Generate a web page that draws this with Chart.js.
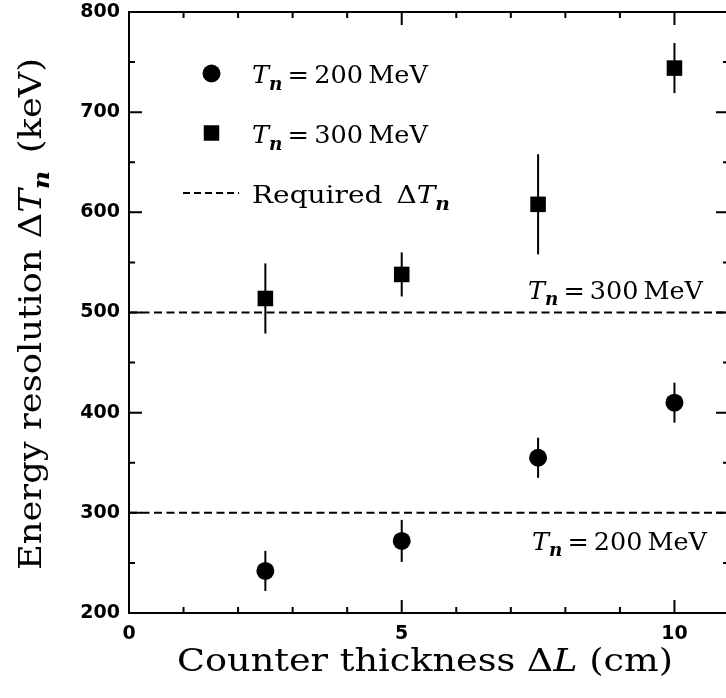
<!DOCTYPE html>
<html><head><meta charset="utf-8">
<script src="https://cdn.jsdelivr.net/npm/chart.js@4/dist/chart.umd.min.js"></script>
<style>
html,body{margin:0;padding:0;overflow:hidden;background:#fff;width:726px;height:698px}
#wrap{width:740px;height:698px;position:relative}
</style>
</head><body>
<div id="wrap"><canvas id="c" width="740" height="698"></canvas></div>
<script>
// ---- data ----
const thickness = [2.5, 5, 7.5, 10];          // counter thickness ΔL (cm)
const res200 = [242, 272, 355, 410];          // ΔT_n at T_n = 200 MeV (keV)
const err200 = [20, 21, 20, 20];
const res300 = [514, 538, 608, 744];          // ΔT_n at T_n = 300 MeV (keV)
const err300 = [35, 22, 50, 25];
const requiredRes = [300, 500];               // required ΔT_n for 200 / 300 MeV
const requiredLabels = ['200', '300'];
const xTickLabels = [0, 5, 10];
const yTickLabels = [200, 300, 400, 500, 600, 700, 800];

const X_MIN = 0, X_MAX = 11, Y_MIN = 200, Y_MAX = 800;
const SERIF = '"DejaVu Serif", serif';

function segFont(kind, size) {
  if (kind === 'i') return 'italic ' + size + 'px ' + SERIF;
  if (kind === 's') return 'italic bold ' + Math.round(size * 0.72) + 'px ' + SERIF;
  return size + 'px ' + SERIF;
}
function richWidth(ctx, segs, size) {
  let w = 0;
  for (const [t, k] of segs) { ctx.font = segFont(k, size); w += ctx.measureText(t).width; }
  return w;
}
// draw rich text starting at x0 (in already-transformed frame), baseline 0
function drawRich(ctx, segs, size, x0, targetW) {
  const w = richWidth(ctx, segs, size);
  const sx = targetW / w;
  ctx.save();
  ctx.translate(x0, 0);
  ctx.scale(sx, 1);
  ctx.fillStyle = '#000';
  ctx.textBaseline = 'alphabetic';
  ctx.textAlign = 'left';
  let x = 0;
  for (const [t, k] of segs) {
    ctx.font = segFont(k, size);
    const dy = k === 's' ? size * 0.26 : 0;
    ctx.fillText(t, x, dy);
    x += ctx.measureText(t).width;
  }
  ctx.restore();
}
function tnSegs(val) {
  return [['T', 'i'], ['n', 's'], ['\u2009=\u2009', 'r'], [val + '\u2009MeV', 'r']];
}

const decorPlugin = {
  id: 'decor',
  beforeDatasetsDraw(chart) {
    const ctx = chart.ctx, xs = chart.scales.x, ys = chart.scales.y;
    ctx.save();
    ctx.strokeStyle = '#000';
    ctx.lineWidth = 2;
    chart.data.datasets.forEach((ds) => {
      if (!ds.errors) return;
      ds.data.forEach((p, j) => {
        const px = xs.getPixelForValue(p.x);
        ctx.beginPath();
        ctx.moveTo(px, ys.getPixelForValue(p.y + ds.errors[j]));
        ctx.lineTo(px, ys.getPixelForValue(p.y - ds.errors[j]));
        ctx.stroke();
      });
    });
    ctx.restore();
  },
  afterDraw(chart) {
    const ctx = chart.ctx, xs = chart.scales.x, ys = chart.scales.y;
    const a = chart.chartArea;
    ctx.save();
    ctx.strokeStyle = '#000';
    ctx.lineWidth = 2;
    // frame
    ctx.strokeRect(a.left, a.top, a.right - a.left, a.bottom - a.top);
    // inward tick marks
    ctx.beginPath();
    ys.ticks.forEach(t => {
      const py = ys.getPixelForValue(t.value);
      const len = (t.value % 100 === 0) ? 13 : 6;
      ctx.moveTo(a.left, py); ctx.lineTo(a.left + len, py);
      ctx.moveTo(a.right, py); ctx.lineTo(a.right - len, py);
    });
    xs.ticks.forEach(t => {
      const px = xs.getPixelForValue(t.value);
      const len = (t.value % 5 === 0) ? 13 : 6;
      ctx.moveTo(px, a.bottom); ctx.lineTo(px, a.bottom - len);
      ctx.moveTo(px, a.top); ctx.lineTo(px, a.top + len);
    });
    ctx.stroke();

    // legend
    ctx.fillStyle = '#000';
    ctx.beginPath(); ctx.arc(211.5, 73.5, 9, 0, Math.PI * 2); ctx.fill();
    ctx.fillRect(211.5 - 7.75, 133 - 7.75, 15.5, 15.5);
    ctx.setLineDash([7, 4]);
    ctx.lineWidth = 2;
    ctx.beginPath(); ctx.moveTo(183, 193); ctx.lineTo(239, 193); ctx.stroke();
    ctx.setLineDash([]);

    ctx.save(); ctx.translate(0, 83); drawRich(ctx, tnSegs('200'), 25, 252, 176); ctx.restore();
    ctx.save(); ctx.translate(0, 143); drawRich(ctx, tnSegs('300'), 25, 252, 176); ctx.restore();
    ctx.save(); ctx.translate(0, 203);
    drawRich(ctx, [['Required\u2002\u0394', 'r'], ['T', 'i'], ['n', 's']], 25, 252, 198);
    ctx.restore();

    // annotations over the required lines
    const annX = [532, 528], annW = [175, 175];
    requiredRes.forEach((v, i) => {
      const py = ys.getPixelForValue(v);
      ctx.save(); ctx.translate(0, py + (i === 0 ? 37 : -14));
      drawRich(ctx, tnSegs(requiredLabels[i]), 25, annX[i], annW[i]);
      ctx.restore();
    });

    // x title
    ctx.save(); ctx.translate(0, 671);
    drawRich(ctx, [['Counter thickness \u0394', 'r'], ['L', 'i'], [' (cm)', 'r']], 31, 177, 496);
    ctx.restore();
    // y title
    ctx.save(); ctx.translate(41, 314); ctx.rotate(-Math.PI / 2);
    drawRich(ctx, [['Energy resolution \u0394', 'r'], ['T', 'i'], ['n', 's'], ['\u2002(keV)', 'r']], 32, -256, 512);
    ctx.restore();

    ctx.restore();
  }
};

const tickFont = { family: 'DejaVu Sans', size: 19, weight: 'bold', lineHeight: 1 };

new Chart(document.getElementById('c'), {
  type: 'scatter',
  data: {
    datasets: [
      {
        label: 'Tn = 200 MeV',
        data: thickness.map((x, i) => ({ x, y: res200[i] })),
        errors: err200,
        pointStyle: 'circle', pointRadius: 9, pointHoverRadius: 9,
        backgroundColor: '#000', borderColor: '#000', borderWidth: 0
      },
      {
        label: 'Tn = 300 MeV',
        data: thickness.map((x, i) => ({ x, y: res300[i] })),
        errors: err300,
        pointStyle: 'rect', pointRadius: 11, pointHoverRadius: 11,
        backgroundColor: '#000', borderColor: '#000', borderWidth: 0
      },
      ...requiredRes.map(v => ({
        type: 'line',
        label: 'Required',
        data: [{ x: X_MIN, y: v }, { x: X_MAX, y: v }],
        borderColor: '#000', borderWidth: 2, borderDash: [8, 4.5],
        pointRadius: 0, fill: false
      }))
    ]
  },
  options: {
    responsive: false,
    animation: false,
    devicePixelRatio: 1,
    layout: { padding: { left: 0, top: 12, right: 10, bottom: 0 } },
    plugins: { legend: { display: false }, tooltip: { enabled: false } },
    scales: {
      x: {
        type: 'linear', min: X_MIN, max: X_MAX,
        grid: { display: false, drawTicks: true, tickLength: 12 }, border: { display: false },
        ticks: {
          stepSize: 1, autoSkip: false, maxRotation: 0, padding: 0,
          color: '#000', font: tickFont,
          callback: v => xTickLabels.includes(v) ? String(v) : ''
        },
        afterFit: s => { s.height = 85; }
      },
      y: {
        type: 'linear', min: Y_MIN, max: Y_MAX,
        grid: { display: false, drawTicks: true, tickLength: 9 }, border: { display: false },
        ticks: {
          stepSize: 50, autoSkip: false, padding: 0,
          color: '#000', font: tickFont,
          callback: v => yTickLabels.includes(v) ? String(v) : ''
        },
        afterFit: s => { s.width = 129; }
      }
    }
  },
  plugins: [decorPlugin]
});
</script>
</body></html>
